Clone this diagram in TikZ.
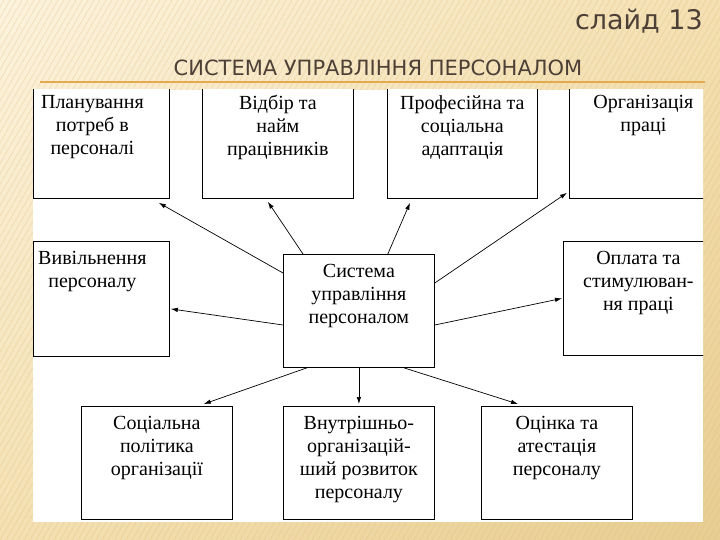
\documentclass[tikz,border=0pt]{standalone}
\usepackage{fontspec}
\setmainfont{Liberation Serif}
\newfontfamily\slidefont{DejaVu Sans}
\usetikzlibrary{positioning,arrows.meta,shadings}

\definecolor{bglight}{RGB}{252,243,222}
\definecolor{bgmid}{RGB}{244,224,178}
\definecolor{bgdark}{RGB}{231,205,145}
\definecolor{stripecol}{RGB}{222,188,120}
\definecolor{rulecol}{RGB}{228,170,80}
\definecolor{titlecol}{RGB}{77,64,54}

\begin{document}
\begin{tikzpicture}[x=1pt, y=1pt,
  box/.style={draw, line width=0.8pt, fill=white, anchor=north west, inner sep=0pt,
              minimum width=151pt, minimum height=113pt},
  lbl/.style={align=center, anchor=north, inner sep=0pt, font=\fontsize{20}{23}\selectfont},
  flow/.style={-{Latex[length=7pt,width=4.5pt]}, line width=0.7pt},
  head/.style={text=titlecol, inner sep=0pt}
]
% slide background
\useasboundingbox (0,0) rectangle (720,-540);
\shade[upper left=bglight, upper right=bgmid, lower left=bgmid, lower right=bgdark]
  (0,0) rectangle (720,-540);
\begin{scope}
  \clip (0,0) rectangle (720,-540);
  \foreach \i in {-330,-324,...,720}
    \draw[stripecol, opacity=0.35, line width=0.7pt] (\i,-540) -- ++(310,540);
\end{scope}

% heading
\node[head, anchor=base east, font=\slidefont\fontsize{27}{30}\selectfont] (slideno) at (703,-30) {слайд 13};
\node[head, anchor=base, font=\slidefont\fontsize{21}{24}\selectfont] (title) at (378,-76) {СИСТЕМА УПРАВЛІННЯ ПЕРСОНАЛОМ};
\draw[rulecol, line width=2.5pt] (40,-82) -- (705,-82);

% white sheet
\fill[white] (33,-90) rectangle (703,-522);
\begin{scope}
\clip (33,-90) rectangle (703,-522);

% top row
\node[box, minimum width=136pt] (plan) at (33,-85) {};
\node[box] (hire) at (202,-85) {};
\node[box, minimum width=150pt] (adapt) at (387,-85) {};
\node[box, minimum width=148pt] (org) at (569,-85) {};
% middle row
\node[box, minimum width=136pt, minimum height=115pt] (release) at (33,-241) {};
\node[box] (core) at (283,-254) {};
\node[box, minimum width=150pt, minimum height=114pt] (pay) at (563,-241) {};
% bottom row
\node[box] (social) at (81,-406) {};
\node[box] (develop) at (283,-406) {};
\node[box] (assess) at (481,-406) {};

\node[lbl, below=10pt of plan.north, xshift=-9pt] (plan-t) {Планування\\потреб в\\персоналі};
\node[lbl, below=10pt of hire.north] (hire-t) {Відбір та\\найм\\працівників};
\node[lbl, below=10pt of adapt.north] (adapt-t) {Професійна та\\соціальна\\адаптація};
\node[lbl, below=10pt of org.north] (org-t) {Організація\\праці};
\node[lbl, below=10pt of release.north, xshift=-9pt] (release-t) {Вивільнення\\персоналу};
\node[lbl, below=10pt of core.north] (core-t) {Система\\управління\\персоналом};
\node[lbl, below=10pt of pay.north] (pay-t) {Оплата та\\стимулюван-\\ня праці};
\node[lbl, below=10pt of social.north] (social-t) {Соціальна\\політика\\організації};
\node[lbl, below=10pt of develop.north] (develop-t) {Внутрішньо-\\організацій-\\ший розвиток\\персоналу};
\node[lbl, below=10pt of assess.north] (assess-t) {Оцінка та\\атестація\\персоналу};

% arrows out of the core box
\draw[flow] ([yshift=-19pt]core.north west) -- ([xshift=-11pt,yshift=-4pt]plan.south east);
\draw[flow] ([xshift=20pt]core.north west) -- ([xshift=-10pt,yshift=-3pt]hire.south);
\draw[flow] ([xshift=-47pt]core.north east) -- ([xshift=23pt,yshift=-4pt]adapt.south west);
\draw[flow] ([yshift=-29pt]core.north east) -- ([xshift=-2pt,yshift=6pt]org.south west);
\draw[flow] ([yshift=-71pt]core.north west) -- ([xshift=1pt,yshift=-10pt]release.east);
\draw[flow] ([yshift=-71pt]core.north east) -- ([xshift=-1pt]pay.west);
\draw[flow] ([xshift=24pt]core.south west) -- ([xshift=-29pt,yshift=2pt]social.north east);
\draw[flow] (core.south) -- ([yshift=2pt]develop.north);
\draw[flow] ([xshift=-31pt]core.south east) -- ([xshift=37pt,yshift=2pt]assess.north west);
\end{scope}
\end{tikzpicture}
\end{document}
